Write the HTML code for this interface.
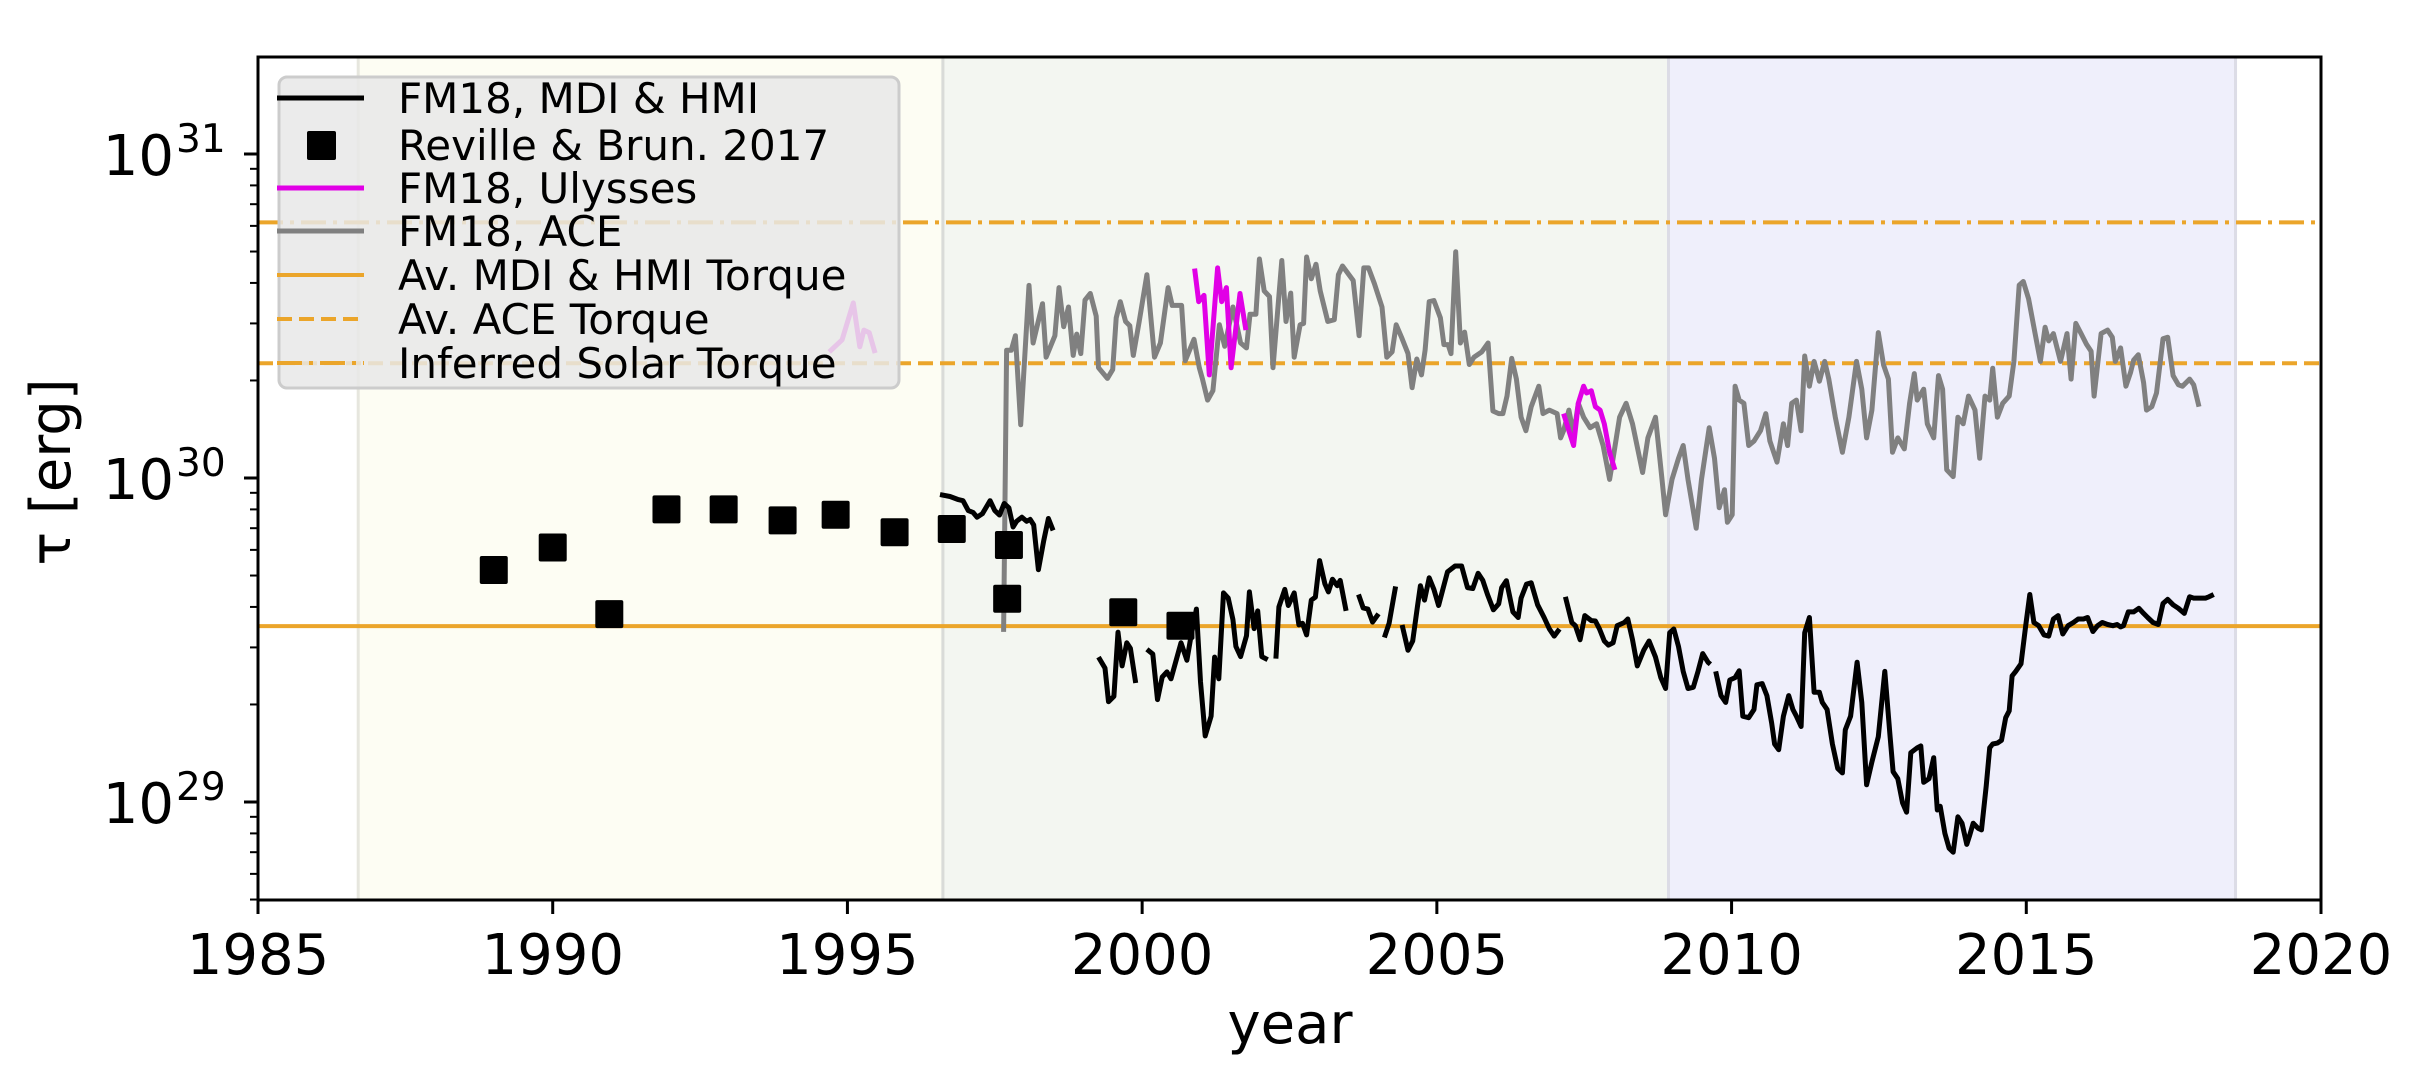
<!DOCTYPE html>
<html><head><meta charset="utf-8"><style>
html,body{margin:0;padding:0;background:#fff;}
svg{display:block;font-family:"DejaVu Sans","Liberation Sans",sans-serif;}
</style></head><body>
<svg id="chart" width="2422" height="1085" viewBox="0 0 2422 1085" xmlns="http://www.w3.org/2000/svg">
<g id="regions"></g>
<g id="hlines"></g>
<g id="series"></g>
<g id="axes"></g>
<g id="legend"></g>
</svg>
<script>
// ---- data ----
const xTicks = [1985, 1990, 1995, 2000, 2005, 2010, 2015, 2020];
const yTickExp = [29, 30, 31];
const regionStarts = [1986.7, 1996.62, 2008.93];
const regionEnds = [1996.62, 2008.93, 2018.55];
const avMdiTorque = 3.49e29;
const avAceTorque = 2.26e30;
const inferredTorque = 6.15e30;

const rbYears = [1989.0, 1990.0, 1990.96, 1991.93, 1992.9, 1993.9, 1994.8, 1995.8, 1996.77, 1997.74, 1997.71, 1999.68, 2000.65];
const rbValues = [5.2e29, 6.1e29, 3.8e29, 8.0e29, 8.0e29, 7.4e29, 7.7e29, 6.8e29, 6.96e29, 6.21e29, 4.24e29, 3.85e29, 3.50e29];

const ulyYears = [1994.69,1994.91,1995.1,1995.21,1995.28,1995.37,1995.47,null,
 2000.89,2000.96,2001.05,2001.14,2001.28,2001.35,2001.43,2001.51,2001.66,2001.76,null,
 2007.15,2007.24,2007.32,2007.40,2007.49,2007.54,2007.62,2007.69,2007.77,2007.84,2007.93,2008.02];
const ulyValues = [2.45e30,2.67e30,3.47e30,2.54e30,2.86e30,2.81e30,2.43e30,null,
 4.43e30,3.50e30,3.66e30,2.08e30,4.45e30,3.50e30,3.87e30,2.19e30,3.71e30,2.86e30,null,
 1.58e30,1.40e30,1.26e30,1.70e30,1.92e30,1.83e30,1.86e30,1.66e30,1.62e30,1.47e30,1.20e30,1.06e30];

const aceYears = [1997.65,1997.70,1997.78,1997.85,1997.94,1998.08,1998.15,1998.31,1998.37,1998.52,1998.59,1998.67,1998.75,1998.83,1998.89,1998.96,1999.03,1999.12,1999.22,1999.26,1999.41,1999.50,1999.56,1999.63,1999.72,1999.79,1999.85,1999.95,2000.08,2000.21,2000.31,2000.44,2000.51,2000.67,2000.73,2000.88,2000.97,2001.02,2001.11,2001.20,2001.31,2001.40,2001.54,2001.67,2001.77,2001.83,2001.93,2001.99,2002.07,2002.16,2002.22,2002.37,2002.44,2002.52,2002.58,2002.68,2002.74,2002.79,2002.87,2002.95,2003.02,2003.15,2003.26,2003.33,2003.40,2003.58,2003.68,2003.76,2003.84,2003.94,2004.07,2004.15,2004.24,2004.31,2004.40,2004.51,2004.58,2004.66,2004.74,2004.80,2004.87,2004.95,2005.06,2005.12,2005.19,2005.24,2005.32,2005.40,2005.47,2005.55,2005.63,2005.76,2005.87,2005.95,2006.05,
 2006.12,2006.19,2006.27,2006.35,2006.43,2006.51,2006.60,2006.73,2006.80,2006.91,2007.04,2007.10,2007.15,2007.24,2007.32,2007.40,2007.49,2007.60,2007.71,2007.82,2007.93,2007.99,2008.10,2008.21,2008.32,2008.49,2008.58,2008.71,2008.82,2008.88,2008.99,2009.10,2009.18,2009.26,2009.40,2009.49,2009.62,2009.71,2009.79,2009.88,2009.93,2010.01,2010.06,2010.13,2010.21,2010.29,2010.38,2010.49,2010.58,2010.65,2010.77,2010.88,2010.95,2011.02,2011.10,2011.18,2011.24,2011.32,2011.40,2011.49,2011.58,2011.65,2011.76,2011.88,2011.99,2012.12,2012.21,2012.29,2012.38,2012.49,2012.58,2012.66,2012.73,2012.82,2012.93,2013.02,2013.10,2013.15,2013.26,2013.32,2013.43,2013.51,2013.58,2013.65,2013.76,2013.84,2013.93,2014.02,2014.13,2014.21,2014.30,2014.38,2014.43,2014.51,2014.60,2014.71,2014.79,2014.88,2014.95,2015.04,2015.15,2015.24,2015.32,2015.38,2015.46,2015.58,2015.69,2015.76,2015.84,2015.93,2016.02,2016.10,2016.15,2016.27,2016.38,2016.46,2016.51,2016.60,2016.69,2016.77,2016.82,2016.90,2016.99,2017.04,2017.13,2017.21,2017.32,2017.40,2017.49,2017.58,2017.65,2017.77,2017.84,2017.93];
const aceValues = [3.35e29,2.48e30,2.48e30,2.75e30,1.46e30,3.93e30,2.61e30,3.45e30,2.36e30,2.75e30,3.87e30,2.93e30,3.37e30,2.39e30,2.78e30,2.42e30,3.54e30,3.71e30,3.16e30,2.19e30,2.03e30,2.16e30,3.12e30,3.50e30,3.04e30,2.95e30,2.39e30,3.04e30,4.24e30,2.36e30,2.61e30,3.87e30,3.41e30,3.41e30,2.30e30,2.68e30,2.19e30,2.03e30,1.74e30,1.86e30,2.97e30,2.55e30,3.37e30,2.61e30,2.52e30,3.20e30,3.20e30,4.74e30,3.78e30,3.63e30,2.19e30,4.69e30,3.04e30,3.72e30,2.36e30,2.97e30,3.00e30,4.81e30,4.12e30,4.57e30,3.78e30,3.04e30,3.08e30,4.24e30,4.51e30,4.07e30,2.75e30,4.45e30,4.45e30,3.98e30,3.37e30,2.36e30,2.45e30,2.97e30,2.72e30,2.42e30,1.90e30,2.33e30,2.08e30,2.48e30,3.50e30,3.53e30,3.12e30,2.58e30,2.58e30,2.42e30,4.99e30,2.61e30,2.82e30,2.24e30,2.36e30,2.45e30,2.61e30,1.61e30,1.58e30,
 1.58e30,1.79e30,2.34e30,2.02e30,1.54e30,1.40e30,1.66e30,1.92e30,1.58e30,1.62e30,1.58e30,1.33e30,1.40e30,1.62e30,1.36e30,1.70e30,1.54e30,1.43e30,1.47e30,1.26e30,0.99e30,1.15e30,1.54e30,1.70e30,1.47e30,1.04e30,1.33e30,1.54e30,0.99e30,0.77e30,0.99e30,1.15e30,1.26e30,0.99e30,0.70e30,0.99e30,1.43e30,1.15e30,0.81e30,0.92e30,0.73e30,0.77e30,1.92e30,1.74e30,1.70e30,1.26e30,1.30e30,1.40e30,1.58e30,1.30e30,1.12e30,1.47e30,1.26e30,1.70e30,1.74e30,1.40e30,2.38e30,1.92e30,2.29e30,1.99e30,2.29e30,2.02e30,1.54e30,1.20e30,1.54e30,2.29e30,1.88e30,1.33e30,1.62e30,2.81e30,2.23e30,2.02e30,1.20e30,1.33e30,1.23e30,1.70e30,2.10e30,1.74e30,1.88e30,1.47e30,1.33e30,2.07e30,1.88e30,1.06e30,1.01e30,1.54e30,1.47e30,1.79e30,1.62e30,1.15e30,1.79e30,1.74e30,2.18e30,1.54e30,1.70e30,1.79e30,2.29e30,3.94e30,4.04e30,3.57e30,2.79e30,2.29e30,2.92e30,2.65e30,2.79e30,2.29e30,2.79e30,2.02e30,3.00e30,2.79e30,2.59e30,2.46e30,1.79e30,2.79e30,2.86e30,2.72e30,2.29e30,2.52e30,1.92e30,2.12e30,2.31e30,2.40e30,1.97e30,1.62e30,1.66e30,1.83e30,2.69e30,2.72e30,2.07e30,1.94e30,1.92e30,2.02e30,1.94e30,1.66e30];

const mdiYears = [1996.57,1996.74,1996.87,1996.96,1997.05,1997.13,1997.20,1997.29,1997.42,1997.50,1997.58,1997.66,1997.74,1997.81,1997.87,1997.96,1998.04,1998.10,1998.16,1998.24,1998.33,1998.41,1998.49,null,
 1999.26,1999.37,1999.43,1999.52,1999.59,1999.66,1999.74,1999.80,1999.89,null,
 2000.08,2000.18,2000.26,2000.34,2000.42,2000.49,2000.66,2000.76,2000.83,2000.92,2000.99,2001.07,2001.17,2001.23,2001.30,2001.38,2001.46,2001.54,2001.59,2001.67,2001.77,2001.82,2001.90,2001.96,2002.03,2002.13,null,
 2002.27,2002.32,2002.42,2002.48,2002.58,2002.66,2002.72,2002.79,2002.87,2002.94,2003.01,2003.10,2003.16,2003.23,2003.31,2003.36,2003.46,null,
 2003.67,2003.75,2003.83,2003.91,2004.01,null,
 2004.11,2004.19,2004.30,null,
 2004.41,2004.51,2004.59,2004.67,2004.72,2004.79,2004.87,2004.95,2005.03,2005.11,2005.18,2005.31,2005.42,2005.52,2005.61,2005.70,2005.78,2005.86,2005.96,2006.05,2006.10,2006.18,2006.29,2006.38,2006.43,2006.52,2006.60,2006.71,2006.82,2006.91,2006.99,2007.08,null,
 2007.18,2007.29,2007.35,2007.43,2007.51,2007.62,2007.69,2007.76,2007.84,2007.91,2007.99,2008.06,2008.18,2008.24,2008.32,2008.40,2008.51,2008.60,2008.71,2008.80,2008.88,2008.95,2009.02,2009.10,2009.18,2009.26,2009.35,2009.43,2009.51,2009.60,2009.64,null,
 2009.73,2009.82,2009.90,2009.97,2010.06,2010.13,2010.19,2010.29,2010.38,2010.43,2010.52,2010.60,2010.68,2010.73,2010.80,2010.88,2010.97,2011.04,2011.10,2011.18,2011.24,2011.32,2011.40,2011.49,2011.54,2011.62,2011.71,2011.80,2011.88,2011.93,2012.02,2012.13,2012.21,2012.29,2012.38,2012.49,2012.60,2012.69,2012.74,2012.82,2012.90,2012.97,2013.04,2013.15,2013.21,2013.26,2013.35,2013.43,2013.49,2013.54,2013.62,2013.69,2013.76,2013.84,2013.91,2013.99,2014.04,2014.10,2014.18,2014.24,2014.32,2014.38,2014.43,2014.51,2014.58,2014.65,2014.71,2014.76,2014.82,2014.91,2014.99,2015.06,2015.13,2015.21,2015.30,2015.38,2015.46,2015.54,2015.62,2015.71,2015.80,2015.88,2015.97,2016.04,2016.13,2016.21,2016.29,2016.38,2016.47,2016.54,2016.60,2016.65,2016.73,2016.82,2016.91,2016.99,2017.06,2017.15,2017.24,2017.32,2017.40,2017.49,2017.58,2017.68,2017.77,2017.84,2017.93,2018.04,2018.10,2018.18];
const mdiValues = [8.89e29,8.77e29,8.59e29,8.51e29,7.93e29,7.83e29,7.57e29,7.76e29,8.51e29,7.93e29,7.69e29,8.34e29,8.09e29,7.06e29,7.35e29,7.57e29,7.35e29,7.45e29,7.16e29,5.21e29,6.4e29,7.5e29,6.89e29,null,
 2.80e29,2.59e29,2.04e29,2.12e29,3.34e29,2.63e29,3.10e29,2.98e29,2.33e29,null,
 2.96e29,2.86e29,2.07e29,2.43e29,2.52e29,2.40e29,3.10e29,2.74e29,3.26e29,3.94e29,2.35e29,1.60e29,1.84e29,2.80e29,2.40e29,4.42e29,4.26e29,3.66e29,3.02e29,2.81e29,3.26e29,4.45e29,3.43e29,3.89e29,2.81e29,2.75e29,null,
 2.77e29,4.0e29,4.53e29,4.04e29,4.42e29,3.52e29,3.56e29,3.28e29,4.2e29,4.29e29,5.56e29,4.71e29,4.45e29,4.87e29,4.65e29,4.83e29,3.89e29,null,
 4.37e29,3.97e29,3.94e29,3.59e29,3.81e29,null,
 3.22e29,3.56e29,4.63e29,null,
 3.52e29,2.94e29,3.14e29,4.0e29,4.65e29,4.2e29,4.92e29,4.53e29,4.04e29,4.59e29,5.13e29,5.35e29,5.35e29,4.59e29,4.56e29,5.08e29,4.83e29,4.37e29,3.92e29,4.09e29,4.59e29,4.82e29,3.86e29,3.71e29,4.26e29,4.70e29,4.75e29,4.06e29,3.71e29,3.42e29,3.25e29,3.42e29,null,
 4.30e29,3.58e29,3.50e29,3.17e29,3.76e29,3.63e29,3.62e29,3.42e29,3.14e29,3.05e29,3.10e29,3.50e29,3.58e29,3.67e29,3.17e29,2.63e29,2.94e29,3.14e29,2.80e29,2.42e29,2.24e29,3.33e29,3.42e29,3.02e29,2.53e29,2.24e29,2.26e29,2.53e29,2.87e29,2.70e29,2.66e29,null,
 2.53e29,2.13e29,2.03e29,2.38e29,2.42e29,2.54e29,1.84e29,1.82e29,1.93e29,2.30e29,2.32e29,2.13e29,1.75e29,1.51e29,1.45e29,1.84e29,2.13e29,1.93e29,1.84e29,1.71e29,3.33e29,3.71e29,2.18e29,2.18e29,2.03e29,1.93e29,1.51e29,1.27e29,1.23e29,1.67e29,1.84e29,2.70e29,2.03e29,1.13e29,1.33e29,1.59e29,2.53e29,1.59e29,1.24e29,1.18e29,0.995e29,0.93e29,1.42e29,1.47e29,1.49e29,1.15e29,1.18e29,1.37e29,0.945e29,0.97e29,0.80e29,0.72e29,0.70e29,0.90e29,0.86e29,0.74e29,0.79e29,0.86e29,0.83e29,0.82e29,1.12e29,1.47e29,1.51e29,1.52e29,1.55e29,1.82e29,1.91e29,2.45e29,2.53e29,2.67e29,3.50e29,4.37e29,3.58e29,3.50e29,3.28e29,3.25e29,3.67e29,3.76e29,3.30e29,3.50e29,3.58e29,3.67e29,3.67e29,3.71e29,3.36e29,3.50e29,3.58e29,3.53e29,3.50e29,3.53e29,3.47e29,3.50e29,3.86e29,3.86e29,3.96e29,3.82e29,3.71e29,3.58e29,3.53e29,4.10e29,4.22e29,4.06e29,3.96e29,3.82e29,4.30e29,4.26e29,4.26e29,4.26e29,4.30e29,4.37e29];

const legendLabels = ["FM18, MDI & HMI","Reville & Brun. 2017","FM18, Ulysses","FM18, ACE","Av. MDI & HMI Torque","Av. ACE Torque","Inferred Solar Torque"];

// ---- axes functions ----
const X0=258, X1=2321, Y0=57, Y1=900;
const xMin=1985, xMax=2020;
function xs(yr){ return X0 + (yr-xMin)*(X1-X0)/(xMax-xMin); }
function ys(v){ return 478 - (Math.log10(v)-30)*324; }
const NS="http://www.w3.org/2000/svg";
function mk(tag, attrs, parent){ const e=document.createElementNS(NS,tag); for(const k in attrs) e.setAttribute(k,attrs[k]); parent.appendChild(e); return e; }

// regions
const rg=document.getElementById('regions');
const regionFills=['#fdfdf3','#f3f6f1','#efeffb'];
const regionEdges=['#e6e6de','#d9dbd8','#dcdce6'];
const regionNames=['region-yellow','region-green','region-blue'];
for(let i=0;i<regionStarts.length;i++){
  const r=mk('rect',{x:xs(regionStarts[i]),y:Y0,width:xs(regionEnds[i])-xs(regionStarts[i]),height:Y1-Y0,fill:regionFills[i],stroke:regionEdges[i],'stroke-width':3},rg);
  
  
}

// horizontal reference lines
const hl=document.getElementById('hlines');
const ORANGE='#eba52a';
const l1=mk('line',{x1:X0,x2:X1,y1:ys(avMdiTorque),y2:ys(avMdiTorque),stroke:ORANGE,'stroke-width':4},hl);


const l2=mk('line',{x1:X0,x2:X1,y1:ys(avAceTorque),y2:ys(avAceTorque),stroke:ORANGE,'stroke-width':4,'stroke-dasharray':'15,7'},hl);


const l3=mk('line',{x1:X0,x2:X1,y1:ys(inferredTorque),y2:ys(inferredTorque),stroke:ORANGE,'stroke-width':4,'stroke-dasharray':'25,7,4,7'},hl);



// series
const sg=document.getElementById('series');
function pathD(xsArr, vsArr){
  let d='', pen=false;
  for(let i=0;i<xsArr.length;i++){
    if(xsArr[i]===null||vsArr[i]===null){pen=false;continue;}
    d+=(pen?'L':'M')+xs(xsArr[i]).toFixed(1)+' '+ys(vsArr[i]).toFixed(1)+' ';
    pen=true;
  }
  return d;
}
const pAce=mk('path',{d:pathD(aceYears,aceValues),fill:'none',stroke:'#808080','stroke-width':5,'stroke-linejoin':'round'},sg);


const pUly=mk('path',{d:pathD(ulyYears,ulyValues),fill:'none',stroke:'#e100e6','stroke-width':5,'stroke-linejoin':'round'},sg);


const pMdi=mk('path',{d:pathD(mdiYears,mdiValues),fill:'none',stroke:'#000','stroke-width':5,'stroke-linejoin':'round'},sg);


for(let i=0;i<rbYears.length;i++){
  const s=mk('rect',{x:xs(rbYears[i])-14,y:ys(rbValues[i])-14,width:28,height:28,rx:2,fill:'#000'},sg);
  
  
}

// axes
const ax=document.getElementById('axes');
const frame=mk('rect',{x:X0,y:Y0,width:X1-X0,height:Y1-Y0,fill:'none',stroke:'#000','stroke-width':3},ax);


for(const t of xTicks){
  const x=xs(t);
  mk('line',{x1:x,x2:x,y1:Y1,y2:Y1+14,stroke:'#000','stroke-width':3},ax);
  const tx=mk('text',{x:x,y:974,'font-size':56,'text-anchor':'middle',fill:'#000'},ax);
  tx.textContent=t;
  
  
}
for(let e=28;e<=31;e++){
  for(let m=1;m<=9;m++){
    const v=m*Math.pow(10,e);
    const y=ys(v);
    if(y<Y0-0.5||y>Y1+0.5) continue;
    mk('line',{x1:X0,x2:X0-(m===1?14:8),y1:y,y2:y,stroke:'#000','stroke-width':m===1?3:2},ax);
  }
}
for(const e of yTickExp){
  const y=ys(Math.pow(10,e));
  const t=mk('text',{x:174,y:y+21,'font-size':56,'text-anchor':'end',fill:'#000'},ax);
  t.textContent='10';
  
  
  const s=mk('text',{x:176,y:y-2,'font-size':39,'text-anchor':'start',fill:'#000'},ax);
  s.textContent=String(e);
  
  
}
const xl=mk('text',{x:1290,y:1043,'font-size':56,'text-anchor':'middle',fill:'#000'},ax);
xl.textContent='year';


const yl=mk('text',{x:0,y:0,'font-size':56,'text-anchor':'middle',fill:'#000',transform:'translate(70,472) rotate(-90)'},ax);
yl.textContent='τ [erg]';



// legend
const lg=document.getElementById('legend');
const box=mk('rect',{x:279,y:77,width:620,height:311,rx:8,fill:'#e8e8e8','fill-opacity':0.85,stroke:'#cccccc','stroke-width':3},lg);


const rowY=[98,145,188,231,275,319,363];
const hStyles=[
 {stroke:'#000'},null,{stroke:'#e100e6'},{stroke:'#808080'},
 {stroke:ORANGE},{stroke:ORANGE,'stroke-dasharray':'15,7'},{stroke:ORANGE,'stroke-dasharray':'25,7,4,7'}];
for(let i=0;i<legendLabels.length;i++){
  const y=rowY[i];
  if(hStyles[i]){
    const a=Object.assign({x1:277,x2:364,y1:y,y2:y,'stroke-width':i>=4?4:5},hStyles[i]);
    const h=mk('line',a,lg);
    
    
  } else {
    const h=mk('rect',{x:307,y:y-14,width:29,height:29,rx:2,fill:'#000'},lg);
    
    
  }
  const t=mk('text',{x:398,y:y+15,'font-size':42,fill:'#000'},lg);
  t.textContent=legendLabels[i];
  
  
}
</script>
</body></html>
